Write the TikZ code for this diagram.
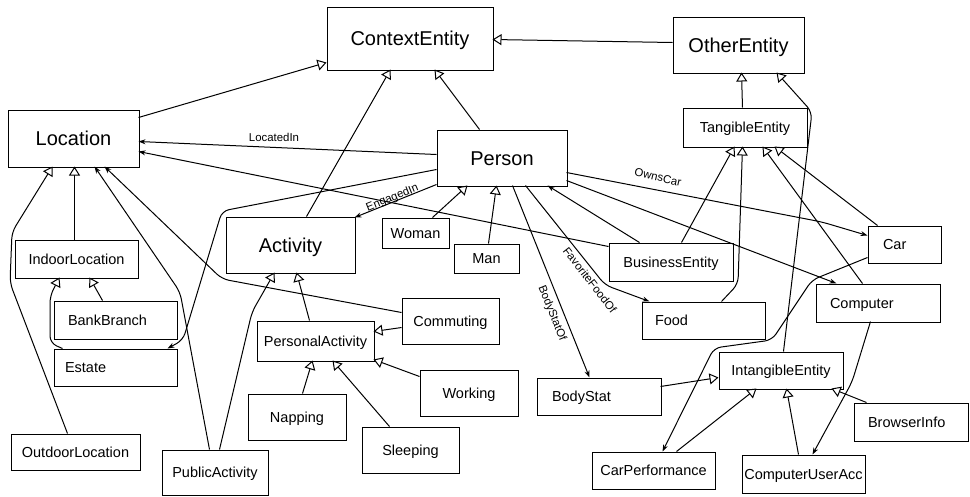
\documentclass[tikz,border=0pt]{standalone}
\usepackage{fontspec}
\setmainfont{Liberation Sans}
\usetikzlibrary{arrows.meta,calc}

\tikzset{
  ent/.style={draw, line width=1pt, inner sep=0pt, align=center,
    font=\fontsize{14.5}{17}\selectfont, text height=10.4pt, text depth=0pt},
  bigent/.style={ent, font=\fontsize{20}{24}\selectfont, text height=14.4pt},
  leftent/.style={ent, align=left, text width=#1},
  conn/.style={line width=1pt, rounded corners=7pt},
  gen/.style={conn, -{Triangle[open, length=9pt, width=11pt, fill=white]}},
  assoc/.style={conn, -{Stealth[length=7pt, width=5pt]}},
  lbl/.style={font=\fontsize{11.4}{13}\selectfont, inner sep=0pt,
    text height=8.2pt, text depth=0pt},
}

\begin{document}
\begin{tikzpicture}[x=1pt, y=-1pt]
\useasboundingbox (0,0) rectangle (970,496);

% ---- classes ----
\node[bigent, minimum width=166pt, minimum height=63pt] (ContextEntity) at (410,38.5) {ContextEntity};
\node[bigent, minimum width=131pt, minimum height=56pt] (OtherEntity) at (738.5,45) {OtherEntity};
\node[bigent, minimum width=131pt, minimum height=57pt] (Location) at (73.5,138.5) {Location};
\node[bigent, minimum width=130pt, minimum height=56pt] (Person) at (502,158) {Person};
\node[bigent, minimum width=129pt, minimum height=56pt] (Activity) at (290.5,245) {Activity};
\node[ent, minimum width=124pt, minimum height=39pt] (TangibleEntity) at (745,127.5) {TangibleEntity};
\node[ent, minimum width=67pt, minimum height=30pt] (Woman) at (415.5,233) {Woman};
\node[ent, minimum width=65pt, minimum height=29pt] (Man) at (486.5,258.5) {Man};
\node[ent, minimum width=124pt, minimum height=38pt] (BusinessEntity) at (671,262) {BusinessEntity};
\node[leftent=43pt, inner xsep=15pt, minimum height=37pt] (Car) at (904.5,244.5) {Car};
\node[leftent=96pt, inner xsep=14pt, minimum height=38pt] (Computer) at (878,303) {Computer};
\node[leftent=97pt, inner xsep=13pt, minimum height=37pt] (Food) at (703.5,320.5) {Food};
\node[ent, minimum width=123pt, minimum height=38pt] (IndoorLocation) at (76.5,259) {IndoorLocation};
\node[leftent=95pt, inner xsep=14pt, minimum height=38pt] (BankBranch) at (115.5,320) {BankBranch};
\node[leftent=101pt, inner xsep=11pt, minimum height=37pt] (Estate) at (115.5,367.5) {Estate};
\node[ent, minimum width=129pt, minimum height=36pt] (OutdoorLocation) at (75.5,452) {OutdoorLocation};
\node[ent, minimum width=106pt, minimum height=45pt] (PublicActivity) at (215,472.5) {PublicActivity};
\node[ent, minimum width=117pt, minimum height=40pt] (PersonalActivity) at (315.5,341) {PersonalActivity};
\node[ent, minimum width=98pt, minimum height=46pt] (Napping) at (297,417) {Napping};
\node[ent, minimum width=97pt, minimum height=46pt] (Sleeping) at (410.5,450) {Sleeping};
\node[ent, minimum width=98pt, minimum height=46pt] (Working) at (469,393) {Working};
\node[ent, minimum width=97pt, minimum height=46pt] (Commuting) at (450.5,321) {Commuting};
\node[leftent=94pt, inner xsep=15pt, minimum height=37pt] (BodyStat) at (599,396.5) {BodyStat};
\node[ent, minimum width=124pt, minimum height=37pt] (IntangibleEntity) at (781,370.5) {IntangibleEntity};
\node[leftent=86pt, inner xsep=14pt, minimum height=38pt] (BrowserInfo) at (911,422) {BrowserInfo};
\node[ent, minimum width=123pt, minimum height=38pt] (ComputerUserAcc) at (803.5,474) {ComputerUserAcc};
\node[ent, minimum width=123pt, minimum height=37pt] (CarPerformance) at (653.5,470.5) {CarPerformance};

% ---- generalisations ----
\draw[gen] ($(Location.north west)+(131,8)$) -- ($(ContextEntity.north west)+(0,56)$);
\draw[gen] ($(OtherEntity.north west)+(0,26)$) -- ($(ContextEntity.north west)+(166,33)$);
\draw[gen] ($(Activity.north west)+(81,0)$) -- ($(ContextEntity.north west)+(64,63)$);
\draw[gen] ($(Person.north west)+(43,0)$) -- ($(ContextEntity.north west)+(108,63)$);
\draw[gen] ($(TangibleEntity.north west)+(60,0)$) -- ($(OtherEntity.north west)+(69,56)$);
\draw[gen] ($(IntangibleEntity.north west)+(65,0)$) -- (812,112) -- ($(OtherEntity.north west)+(104,56)$);
\draw[gen] ($(BusinessEntity.north west)+(73,0)$) -- ($(TangibleEntity.north west)+(52,39)$);
\draw[gen] ($(Food.north west)+(80,0)$) -- (738,284) -- ($(TangibleEntity.north west)+(60,39)$);
\draw[gen] ($(Computer.north west)+(47,0)$) -- ($(TangibleEntity.north west)+(80,39)$);
\draw[gen] ($(Car.north west)+(10,0)$) -- ($(TangibleEntity.north west)+(92,39)$);
\draw[gen] ($(Man.north west)+(35,0)$) -- ($(Person.north west)+(60,56)$);
\draw[gen] ($(Woman.north west)+(51,0)$) -- ($(Person.north west)+(31,56)$);
\draw[gen] ($(IndoorLocation.north west)+(60,0)$) -- ($(Location.north west)+(67,57)$);
\draw[gen] ($(OutdoorLocation.north west)+(57,0)$) -- (10,283) -- (12,232) -- ($(Location.north west)+(45,57)$);
\draw[gen] ($(BankBranch.north west)+(49,0)$) -- ($(IndoorLocation.north west)+(75,38)$);
\draw[gen] ($(Estate.north west)+(9,0)$) -- (50,343) -- (50,296) -- ($(IndoorLocation.north west)+(45,38)$);
\draw[gen] ($(PersonalActivity.north west)+(53,0)$) -- ($(Activity.north west)+(71,56)$);
\draw[gen] ($(PublicActivity.north west)+(58,0)$) -- (252,312) -- ($(Activity.north west)+(49,56)$);
\draw[gen] ($(Commuting.north west)+(0,30)$) -- ($(PersonalActivity.north west)+(117,11)$);
\draw[gen] ($(Working.north west)+(0,7)$) -- ($(PersonalActivity.north west)+(117,39)$);
\draw[gen] ($(Napping.north west)+(55,0)$) -- ($(PersonalActivity.north west)+(56,40)$);
\draw[gen] ($(Sleeping.north west)+(28,0)$) -- ($(PersonalActivity.north west)+(76,40)$);
\draw[gen] ($(BodyStat.north west)+(124,9)$) -- ($(IntangibleEntity.north west)+(0,26)$);
\draw[gen] ($(CarPerformance.north west)+(85,0)$) -- ($(IntangibleEntity.north west)+(38,37)$);
\draw[gen] ($(ComputerUserAcc.north west)+(57,0)$) -- ($(IntangibleEntity.north west)+(68,37)$);
\draw[gen] ($(BrowserInfo.north west)+(13,0)$) -- ($(IntangibleEntity.north west)+(113,37)$);

% ---- associations ----
\draw[assoc] ($(Person.north west)+(0,25)$) -- ($(Location.north west)+(131,32)$);
\node[lbl] (lLocatedIn) at (274,137) {LocatedIn};
\draw[assoc] ($(BusinessEntity.north west)+(0,4)$) -- ($(Location.north west)+(131,42)$);
\draw[assoc] ($(Person.north west)+(0,55)$) -- ($(Activity.north west)+(129,1)$);
\node[lbl, rotate=22] (lEngagedIn) at (392,197) {EngagedIn};
\draw[assoc] ($(Person.north west)+(0,40)$) -- (222,211) -- (183,340) -- ($(Estate.north west)+(114,0)$);
\draw[assoc] ($(Commuting.north west)+(0,15)$) -- (222,279) -- ($(Location.north west)+(97,57)$);
\draw[assoc] ($(PublicActivity.north west)+(48,0)$) -- (180,292) -- ($(Location.north west)+(87,57)$);
\draw[assoc] ($(Person.north west)+(76,56)$) -- ($(BodyStat.north west)+(53,0)$);
\node[lbl, rotate=-68] (lBodyStatOf) at (553,313) {BodyStatOf};
\draw[assoc] ($(Person.north west)+(89,56)$) -- (605,285) -- ($(Food.north west)+(8,0)$);
\node[lbl, rotate=-52] (lFavoriteFoodOf) at (590,280) {FavoriteFoodOf};
\draw[assoc] ($(Person.north west)+(130,43)$) -- (822,222) -- ($(Car.north west)+(0,10)$);
\node[lbl, rotate=-13] (lOwnsCar) at (658,177) {OwnsCar};
\draw[assoc] ($(Person.north west)+(130,51)$) -- ($(Computer.north west)+(21,0)$);
\draw[assoc] ($(BusinessEntity.north west)+(31,0)$) -- ($(Person.north west)+(111,56)$);
\draw[assoc] ($(Car.north west)+(0,32)$) -- (812,280) -- (772,340) -- (714,348) -- ($(CarPerformance.north west)+(71,0)$);
\draw[assoc] ($(Computer.north west)+(55,38)$) -- (852,382) -- ($(ComputerUserAcc.north west)+(71,0)$);
\end{tikzpicture}
\end{document}
